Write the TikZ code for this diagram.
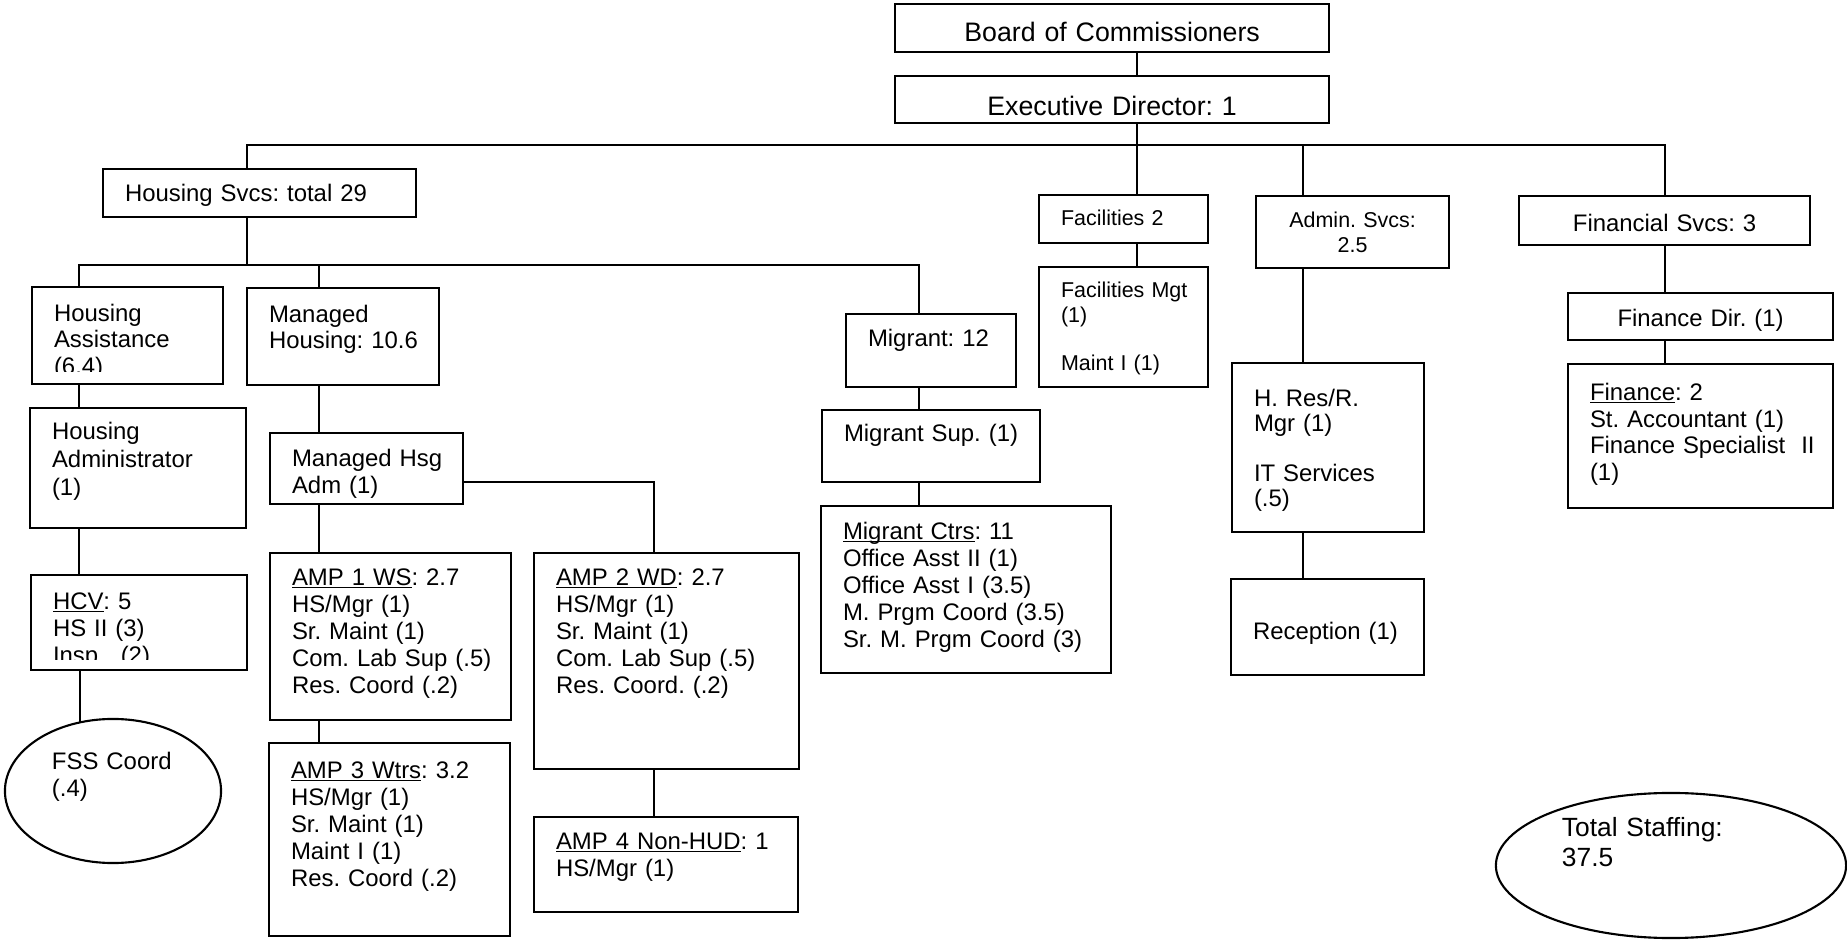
\documentclass[tikz,border=0pt]{standalone}
\usepackage{fontspec}
\setmainfont{Liberation Sans}
\usetikzlibrary{shapes.geometric}

\newcommand{\unitfont}{\fontsize{6.8}{7.7}\selectfont}
\newcommand{\facfont}{\fontsize{6.1}{6.9}\selectfont}
\newcommand{\headfont}{\fontsize{7.6}{8.7}\selectfont}
\newcommand{\uln}[1]{\setbox0\hbox{#1}\rlap{\rule[-0.8pt]{\wd0}{0.5pt}}\box0}

\tikzset{
    unit/.style={draw, line width=0.6pt, anchor=north west, outer sep=0pt, inner xsep=0.22cm, inner ysep=0pt, align=left, font=\unitfont},
    head/.style={unit, inner xsep=0pt, align=center},
    blob/.style={ellipse, draw, line width=0.6pt, outer sep=0pt, inner sep=0pt, align=left, font=\unitfont},
    boxdim/.style n args={3}{text width=#1cm, text height=#2cm, text depth=#3cm},
    link/.style={line width=0.6pt},
}

\begin{document}
\frenchspacing
\hyphenpenalty=10000
\exhyphenpenalty=10000
\begin{tikzpicture}[x=0.01cm, y=-0.01cm]
    \path[use as bounding box, fill=white] (0,0) rectangle (1847,940);

    \node[head, boxdim={4.34}{0.373}{0.107}, font=\headfont] (board) at (895,4) {Board of Commissioners};
    \node[head, boxdim={4.34}{0.393}{0.077}, font=\headfont] (exec) at (895,76) {Executive Director: 1};

    \node[unit, boxdim={2.69}{0.325}{0.155}] (hsvcs) at (103,169) {Housing Svcs: total 29};
    \node[unit, boxdim={1.25}{0.308}{0.172}, font=\facfont] (fac) at (1039,195) {Facilities 2};
    \node[head, boxdim={1.93}{0.318}{0.402}, font=\fontsize{6.1}{7.1}\selectfont] (admin) at (1256,196) {Admin. Svcs:\\2.5};
    \node[head, boxdim={2.91}{0.355}{0.135}] (finsvc) at (1519,196) {Financial Svcs: 3};

    \node[unit, boxdim={1.47}{0.345}{0.625}, font=\fontsize{6.8}{7.5}\selectfont] (hass) at (32,287) {Housing\\Assistance\\(6.4)};
    \node[unit, boxdim={1.48}{0.345}{0.625}, font=\fontsize{6.8}{7.5}\selectfont] (mhous) at (247,288) {Managed\\\mbox{Housing: 10.6}};
    \node[unit, boxdim={1.26}{0.325}{0.405}] (mig) at (846,314) {\mbox{Migrant: 12}};
    \node[unit, boxdim={1.25}{0.308}{0.892}, font=\facfont] (facmgt) at (1039,267) {\mbox{Facilities Mgt}\\(1)\\[6.9pt]Maint I (1)};
    \node[unit, boxdim={1.48}{0.435}{1.255}, font=\fontsize{6.8}{7.1}\selectfont] (hres) at (1232,363) {H. Res/R.\\Mgr (1)\\[7.1pt]IT Services\\(.5)};
    \node[head, boxdim={2.65}{0.335}{0.135}] (findir) at (1568,293) {Finance Dir. (1)};
    \node[unit, boxdim={2.21}{0.365}{1.075}, font=\fontsize{6.8}{7.55}\selectfont] (finance) at (1568,364) {\uln{Finance}: 2\\St. Accountant (1)\\\mbox{Finance Specialist\ \ II}\\(1)};

    \node[unit, boxdim={1.72}{0.315}{0.885}, font=\fontsize{6.8}{8.0}\selectfont] (hadm) at (30,408) {Housing\\Administrator\\(1)};
    \node[unit, boxdim={1.49}{0.335}{0.375}] (mha) at (270,433) {\mbox{Managed Hsg}\\Adm (1)};
    \node[unit, boxdim={1.74}{0.315}{0.405}] (migsup) at (822,410) {\mbox{Migrant Sup. (1)}};
    \node[unit, boxdim={2.46}{0.335}{1.335}] (migctr) at (821,506) {\uln{Migrant Ctrs}: 11\\Office Asst II (1)\\Office Asst I (3.5)\\M. Prgm Coord (3.5)\\\mbox{Sr. M. Prgm Coord (3)}};

    \node[unit, boxdim={1.72}{0.345}{0.605}] (hcv) at (31,575) {\uln{HCV}: 5\\HS II (3)\\Insp.\ \ (2)};
    \node[unit, boxdim={1.97}{0.325}{1.345}] (amp1) at (270,553) {\uln{AMP 1 WS}: 2.7\\HS/Mgr (1)\\Sr. Maint (1)\\\mbox{Com. Lab Sup (.5)}\\Res. Coord (.2)};
    \node[unit, boxdim={1.97}{0.355}{1.575}] (amp3) at (269,743) {\uln{AMP 3 Wtrs}: 3.2\\HS/Mgr (1)\\Sr. Maint (1)\\Maint I (1)\\Res. Coord (.2)};
    \node[unit, boxdim={2.21}{0.325}{1.835}] (amp2) at (534,553) {\uln{AMP 2 WD}: 2.7\\HS/Mgr (1)\\Sr. Maint (1)\\Com. Lab Sup (.5)\\Res. Coord. (.2)};
    \node[unit, boxdim={2.20}{0.325}{0.625}] (amp4) at (534,817) {\mbox{\uln{AMP 4 Non-HUD}: 1}\\HS/Mgr (1)};
    \node[unit, boxdim={1.49}{0.605}{0.355}] (recep) at (1231,579) {Reception (1)};

    \node[blob, boxdim={1.22}{0.2}{0.63}, minimum width=2.16cm, minimum height=1.44cm] (fss) at (113,791) {FSS Coord\\(.4)};
    \node[blob, boxdim={2.18}{0.2}{0.77}, minimum width=3.50cm, minimum height=1.45cm, font=\fontsize{7.5}{8.3}\selectfont] (total) at (1671,865.5) {Total Staffing:\\37.5};

    \fill[white] ([shift={(1.3,-1.3)}]hass.south west) rectangle ([shift={(-1.3,-12)}]hass.south east);
    \fill[white] ([shift={(1.3,-1.3)}]hcv.south west) rectangle ([shift={(-1.3,-10)}]hcv.south east);

    \coordinate (colA) at (79,0);
    \coordinate (colH) at (247,0);
    \coordinate (colB) at (319,0);
    \coordinate (colW) at (654,0);
    \coordinate (colM) at (919,0);
    \coordinate (colE) at (1137,0);
    \coordinate (colD) at (1303,0);
    \coordinate (colF) at (1665,0);
    \coordinate (busT) at (0,145);
    \coordinate (busH) at (0,265);
    \coordinate (busW) at (0,482);

    \draw[link] (board.south -| colE) -- (exec.north -| colE);
    \draw[link] (exec.south -| colE) -- (fac.north -| colE);
    \draw[link] (hsvcs.north -| colH) |- (busT -| colF) -- (finsvc.north -| colF);
    \draw[link] (admin.north -| colD) -- (busT -| colD);

    \draw[link] (hsvcs.south -| colH) -- (busH -| colH);
    \draw[link] (hass.north -| colA) |- (busH -| colM) -- (mig.north -| colM);
    \draw[link] (mhous.north -| colB) -- (busH -| colB);

    \draw[link] (hass.south -| colA) -- (hadm.north -| colA);
    \draw[link] (hadm.south -| colA) -- (hcv.north -| colA);
    \draw[link] (hcv.south -| fss.116.5) -- (fss.116.5);

    \draw[link] (mhous.south -| colB) -- (mha.north -| colB);
    \draw[link] (mha.south -| colB) -- (amp1.north -| colB);
    \draw[link] (amp1.south -| colB) -- (amp3.north -| colB);
    \draw[link] (mha.east |- busW) -| (amp2.north -| colW);
    \draw[link] (amp2.south -| colW) -- (amp4.north -| colW);

    \draw[link] (mig.south -| colM) -- (migsup.north -| colM);
    \draw[link] (migsup.south -| colM) -- (migctr.north -| colM);
    \draw[link] (fac.south -| colE) -- (facmgt.north -| colE);
    \draw[link] (admin.south -| colD) -- (hres.north -| colD);
    \draw[link] (hres.south -| colD) -- (recep.north -| colD);
    \draw[link] (finsvc.south -| colF) -- (findir.north -| colF);
    \draw[link] (findir.south -| colF) -- (finance.north -| colF);
\end{tikzpicture}
\end{document}
